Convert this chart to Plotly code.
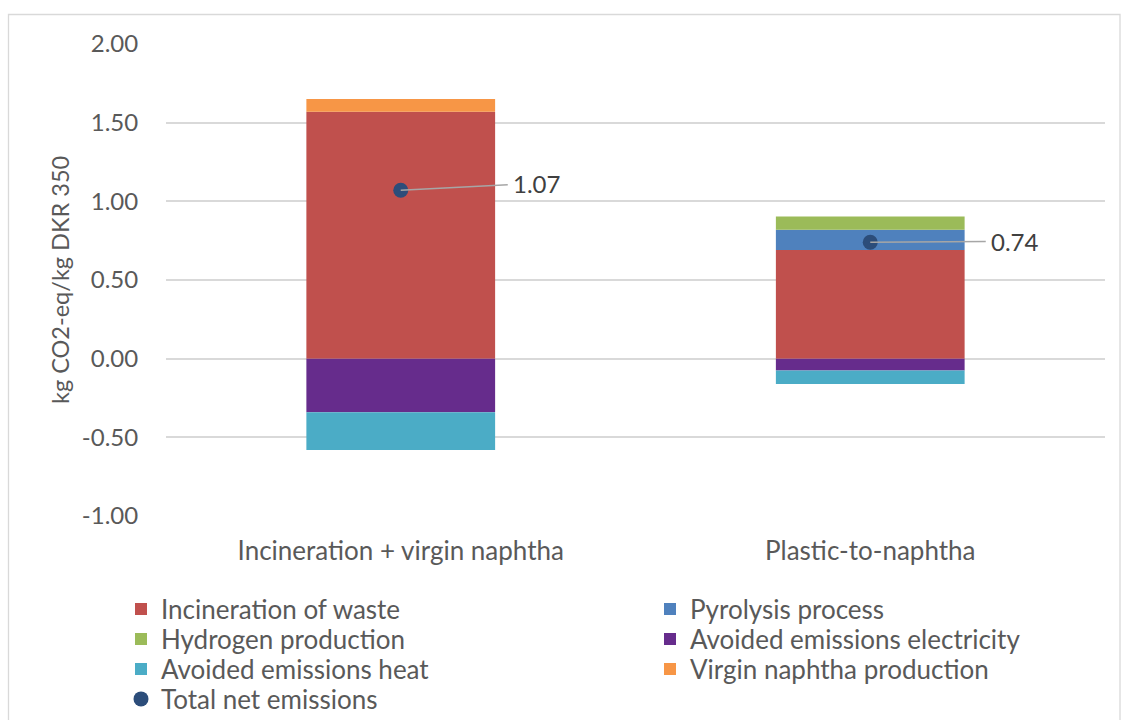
import plotly.graph_objects as go

# Scenario categories and emission contributions (kg CO2-eq / kg DKR 350)
scenarios = ["Incineration + virgin naphtha", "Plastic-to-naphtha"]

incineration_of_waste = [1.57, 0.69]
pyrolysis_process = [0.0, 0.13]
hydrogen_production = [0.0, 0.083]
avoided_electricity = [-0.34, -0.076]
avoided_heat = [-0.24, -0.085]
virgin_naphtha = [0.08, 0.0]
total_net = [1.07, 0.74]

y_ticks = [-1.0, -0.5, 0.0, 0.5, 1.0, 1.5, 2.0]

FONT = "Lato"
TXT = "#595959"

# Figure geometry (pixels)
W, H = 1121, 720
ML, MR, MT, MB = 166, 16, 44, 204
PW = W - ML - MR
PH = H - MT - MB


def px_x(px):
    return (px - ML) / PW


def px_y(py):
    return (H - MB - py) / PH


# name, values, colour, legend slot (column left px, row centre px)
series = [
    ("Incineration of waste", incineration_of_waste, "#C0504D", (121, 609)),
    ("Pyrolysis process", pyrolysis_process, "#4F81BD", (650, 609)),
    ("Hydrogen production", hydrogen_production, "#9BBB59", (121, 639)),
    ("Avoided emissions electricity", avoided_electricity, "#662C8C", (650, 639)),
    ("Avoided emissions heat", avoided_heat, "#4BACC6", (121, 669)),
    ("Virgin naphtha production", virgin_naphtha, "#F79646", (650, 669)),
]
net_slot = (121, 699)

fig = go.Figure()
legend_layout = {}


def legend_key(i):
    return "legend" if i == 0 else f"legend{i + 1}"


for i, (name, vals, color, slot) in enumerate(series):
    key = legend_key(i)
    fig.add_trace(go.Bar(
        x=scenarios, y=vals, name=name, legend=key, showlegend=True,
        marker=dict(color=color, line=dict(width=0)),
    ))
    legend_layout[key] = slot

net_key = legend_key(len(series))
fig.add_trace(go.Scatter(
    x=scenarios, y=total_net, name="Total net emissions", mode="markers",
    legend=net_key, showlegend=True,
    marker=dict(color="#2C4D7A", size=15, symbol="circle"),
))
legend_layout[net_key] = net_slot

# Value labels with leader lines
offsets = [(136, -7), (145, -1)]
for cat, val, (ax, ay) in zip(scenarios, total_net, offsets):
    fig.add_annotation(
        x=cat, y=val, text=f"{val:.2f}", showarrow=True,
        ax=ax, ay=ay, arrowhead=0, arrowwidth=1.5, arrowcolor="#A6A6A6",
        standoff=0, startstandoff=4,
        font=dict(family=FONT, size=24, color="#404040"),
    )

# Y axis title
fig.add_annotation(
    x=px_x(60), y=0.5, xref="paper", yref="paper",
    xanchor="center", yanchor="middle",
    text="kg CO2-eq/kg DKR 350", textangle=-90, showarrow=False,
    font=dict(family=FONT, size=23.5, color=TXT),
)

# Outer chart border
fig.add_shape(
    type="rect", xref="paper", yref="paper",
    x0=px_x(8.5), x1=px_x(1120), y0=px_y(740), y1=px_y(14.5),
    line=dict(color="#D9D9D9", width=1.3), fillcolor="rgba(0,0,0,0)",
    layer="below",
)

legends = {}
for key, (lx, ly) in legend_layout.items():
    legends[key] = dict(
        orientation="v", x=px_x(lx), xanchor="left",
        y=px_y(ly), yanchor="middle",
        font=dict(family=FONT, size=26, color=TXT),
        bgcolor="rgba(0,0,0,0)",
    )

fig.update_layout(
    width=W, height=H,
    showlegend=True,
    margin=dict(l=ML, r=MR, t=MT, b=MB, autoexpand=False),
    paper_bgcolor="white", plot_bgcolor="white",
    barmode="relative", bargap=0.598,
    font=dict(family=FONT, size=20, color=TXT),
    xaxis=dict(
        showgrid=False, showline=False, zeroline=False,
        ticks="outside", ticklen=12, tickcolor="rgba(0,0,0,0)",
        tickfont=dict(family=FONT, size=26, color=TXT),
    ),
    yaxis=dict(
        range=[-1.0, 2.0], tickvals=y_ticks,
        ticktext=[f"{v:.2f}" for v in y_ticks],
        showgrid=True, gridcolor="#D9D9D9", gridwidth=1.5,
        zeroline=False, showline=False,
        ticks="outside", ticklen=22, tickcolor="rgba(0,0,0,0)",
        tickfont=dict(family=FONT, size=24, color=TXT),
    ),
    **legends,
)

fig.write_html("out.html")
